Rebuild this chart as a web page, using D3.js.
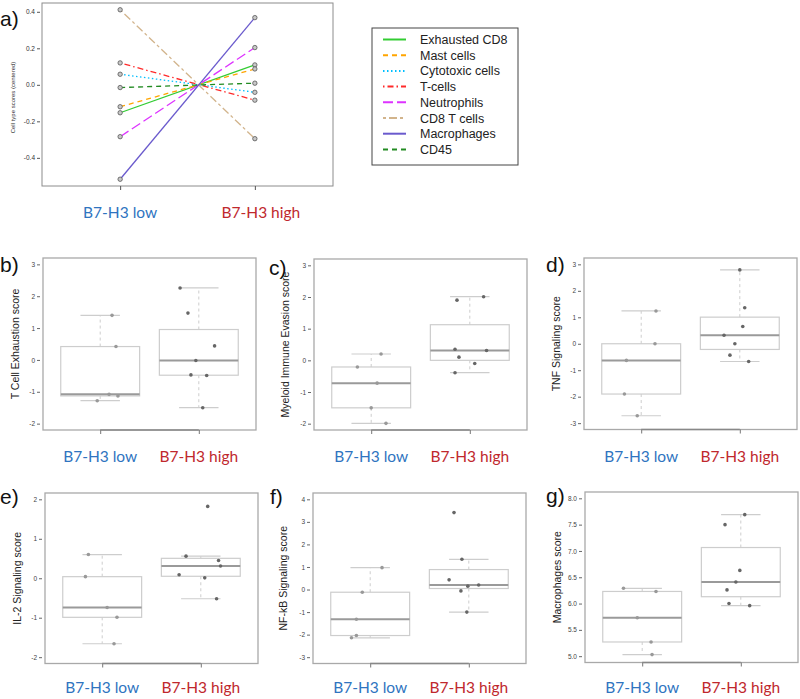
<!DOCTYPE html>
<html><head><meta charset="utf-8">
<script src="https://cdn.jsdelivr.net/npm/d3@7"></script>
<style>body{margin:0;background:#fff}svg{display:block}</style>
</head><body>
<svg id="chart" width="800" height="699"></svg>
<script>
// ---------------- DATA ----------------
const groups = ["B7-H3 low", "B7-H3 high"];

// panel a: centred cell type scores
const cellTypes = ["Exhausted CD8","Mast cells","Cytotoxic cells","T-cells","Neutrophils","CD8 T cells","Macrophages","CD45"];
const scoreLow  = [-0.153,-0.120, 0.058, 0.120,-0.284, 0.411,-0.517,-0.015];
const scoreHigh = [ 0.109, 0.087,-0.041,-0.084, 0.204,-0.295, 0.368, 0.009];
const scoreTicks = [-0.4,-0.2,0.0,0.2,0.4];

// panels b-g
const panelLetters = ["b)","c)","d)","e)","f)","g)"];
const panelTitles = ["T Cell Exhaustion score","Myeloid Immune Evasion score","TNF Signaling score",
                     "IL-2 Signaling score","NF-kB Signaling score","Macrophages score"];

const exhLow  = [1.40,0.42,-1.08,-1.13,-1.28];
const exhHigh = [2.26,1.47,0.44,-0.02,-0.47,-0.49,-1.50];
const myeLow  = [0.20,-0.21,-0.72,-1.50,-1.99];
const myeHigh = [2.01,1.90,0.35,0.31,0.10,-0.10,-0.39];
const tnfLow  = [1.24,0.00,-0.63,-1.90,-2.72];
const tnfHigh = [2.79,1.36,0.65,0.32,0.00,-0.43,-0.67];
const il2Low  = [0.60,0.04,-0.74,-0.99,-1.66];
const il2High = [1.82,0.56,0.45,0.31,0.09,0.01,-0.52];
const nfkLow  = [0.97,-0.12,-1.32,-2.04,-2.14];
const nfkHigh = [3.41,1.34,0.43,0.20,0.15,-0.06,-1.00];
const macLow  = [6.29,6.23,5.73,5.27,5.03];
const macHigh = [7.69,7.50,6.63,6.41,6.26,6.00,5.96];

// horizontal jitter of each sample (in group units)
const exhLowJit  = [0.12,0.16,0.09,0.18,-0.03];
const exhHighJit = [-0.19,-0.11,0.16,-0.03,-0.08,0.08,0.04];
const myeLowJit  = [0.10,-0.14,0.06,0.00,0.15];
const myeHighJit = [0.14,-0.13,-0.15,0.17,-0.11,0.05,-0.15];
const tnfLowJit  = [0.15,0.14,-0.15,-0.17,-0.04];
const tnfHighJit = [0.00,0.05,0.03,-0.16,-0.05,-0.10,0.09];
const il2LowJit  = [-0.14,-0.17,0.05,0.15,0.12];
const il2HighJit = [0.07,-0.15,0.18,0.20,-0.22,0.04,0.16];
const nfkLowJit  = [0.12,-0.08,-0.14,-0.14,-0.19];
const nfkHighJit = [-0.15,-0.07,-0.20,0.10,-0.01,-0.08,-0.02];
const macLowJit  = [-0.19,0.14,-0.05,0.09,0.10];
const macHighJit = [0.04,-0.16,-0.01,-0.05,-0.14,-0.12,0.09];

const exhTicks = [-2,-1,0,1,2,3];
const myeTicks = [-2,-1,0,1,2,3];
const tnfTicks = [-3,-2,-1,0,1,2,3];
const il2Ticks = [-2,-1,0,1,2];
const nfkTicks = [-3,-2,-1,0,1,2,3,4];
const macTicks = [5.0,5.5,6.0,6.5,7.0,7.5,8.0];

// ---------------- STYLE ----------------
const lineColors = ["#33cc33","#ffa500","#00bfff","#ff2a2a","#dd33ff","#d2b48c","#6a5acd","#228b22"];
const lineDash   = [null,"5,4","1.5,2.5","1.5,3,6,3","10,4","3,3,8,3",null,"5,4"];
const groupColors = ["#2f74c0","#c0282d"];

const svg = d3.select("#chart");
const FONT = "'Liberation Sans', Arial, sans-serif";
const LABFONT = "Lato, 'Open Sans', sans-serif";

// R-like padded limits
function pad(lim, f=0.04){ const r = lim[1]-lim[0]; return [lim[0]-r*f, lim[1]+r*f]; }

// ---------------- PANEL A ----------------
(function(){
  const L=42, R=333, T=3, B=186;
  const x = d3.scaleLinear().domain(pad([0.5,2.5])).range([L,R]);
  const y = d3.scaleLinear().domain(pad(d3.extent(scoreLow.concat(scoreHigh)))).range([B,T]);
  const g = svg.append("g");
  g.append("rect").attr("x",L).attr("y",T).attr("width",R-L).attr("height",B-T)
    .attr("fill","none").attr("stroke","#8c8c8c").attr("stroke-width",1);
  const ya = d3.axisLeft(y).tickValues(scoreTicks).tickFormat(d=>d.toFixed(1)).tickSize(3).tickPadding(2);
  const yg = g.append("g").attr("transform",`translate(${L-2},0)`).call(ya);
  yg.select(".domain").remove();
  yg.selectAll("line").attr("stroke","#555");
  yg.selectAll("text").attr("font-family",FONT).attr("font-size",6.5).attr("fill","#333");
  const xa = d3.axisBottom(x).tickValues([1,2]).tickFormat("").tickSize(4);
  const xg = g.append("g").attr("transform",`translate(0,${B})`).call(xa);
  xg.select(".domain").remove();
  xg.selectAll("line").attr("stroke","#555");
  g.append("text").attr("transform",`translate(15,${(T+B)/2+3}) rotate(-90)`).attr("text-anchor","middle")
    .attr("font-family",FONT).attr("font-size",6).attr("fill","#333").text("Cell type scores (centered)");
  cellTypes.forEach((c,i)=>{
    g.append("line").attr("x1",x(1)).attr("y1",y(scoreLow[i])).attr("x2",x(2)).attr("y2",y(scoreHigh[i]))
      .attr("stroke",lineColors[i]).attr("stroke-width",1.3).attr("stroke-dasharray",lineDash[i]);
  });
  cellTypes.forEach((c,i)=>{
    [[1,scoreLow[i]],[2,scoreHigh[i]]].forEach(p=>{
      g.append("circle").attr("cx",x(p[0])).attr("cy",y(p[1])).attr("r",2.2)
        .attr("fill","#c8c8c8").attr("stroke","#555").attr("stroke-width",0.8);
    });
  });
  groups.forEach((t,i)=>{
    g.append("text").attr("x",x(i+1)+(i?6:0)).attr("y",217.5).attr("text-anchor","middle")
      .attr("font-family",LABFONT).attr("font-size",15.5).attr("fill",groupColors[i]).text(t);
  });
  g.append("text").attr("x",0).attr("y",26).attr("font-family",FONT).attr("font-size",21).attr("fill","#111").text("a)");
  // legend
  const lx=372, ly=28, lw=146, lh=137, step=15.7;
  const lg = svg.append("g");
  lg.append("rect").attr("x",lx).attr("y",ly).attr("width",lw).attr("height",lh)
    .attr("fill","#fff").attr("stroke","#444").attr("stroke-width",1);
  cellTypes.forEach((c,i)=>{
    const yy = ly+11.5+i*step;
    lg.append("line").attr("x1",lx+11).attr("x2",lx+34).attr("y1",yy).attr("y2",yy)
      .attr("stroke",lineColors[i]).attr("stroke-width",2).attr("stroke-dasharray",lineDash[i]);
    lg.append("text").attr("x",lx+48).attr("y",yy+4.5).attr("font-family",FONT).attr("font-size",12.5)
      .attr("fill","#222").text(c);
  });
})();

// ---------------- PANELS B-G ----------------
function fivenum(arr){
  const x = arr.slice().sort((a,b)=>a-b), n=x.length;
  const n4 = Math.floor((n+3)/2)/2;
  const d = [1, n4, (n+1)/2, n+1-n4, n];
  return d.map(v => 0.5*(x[Math.floor(v)-1] + x[Math.ceil(v)-1]));
}
function boxStats(arr){
  const f = fivenum(arr), iqr = f[3]-f[1];
  const inside = arr.filter(v => v >= f[1]-1.5*iqr && v <= f[3]+1.5*iqr);
  return {lo:d3.min(inside), q1:f[1], med:f[2], q3:f[3], hi:d3.max(inside)};
}

const panelData = [
  {lo:exhLow, hi:exhHigh, jl:exhLowJit, jh:exhHighJit, ticks:exhTicks},
  {lo:myeLow, hi:myeHigh, jl:myeLowJit, jh:myeHighJit, ticks:myeTicks},
  {lo:tnfLow, hi:tnfHigh, jl:tnfLowJit, jh:tnfHighJit, ticks:tnfTicks},
  {lo:il2Low, hi:il2High, jl:il2LowJit, jh:il2HighJit, ticks:il2Ticks},
  {lo:nfkLow, hi:nfkHigh, jl:nfkLowJit, jh:nfkHighJit, ticks:nfkTicks},
  {lo:macLow, hi:macHigh, jl:macLowJit, jh:macHighJit, ticks:macTicks}
];
const layout = [
  {L:43, T:258, B:430, lx:0,   ly:272, tx:15},
  {L:314,T:259, B:430, lx:269, ly:275, tx:285},
  {L:584,T:258, B:429.5, lx:546, ly:272, tx:556},
  {L:45, T:493, B:663.5, lx:0,   ly:504, tx:17},
  {L:313,T:493, B:663.5, lx:270, ly:504, tx:283},
  {L:585,T:492, B:662.5, lx:546, ly:503, tx:557}
];
const PW = 213;

panelData.forEach((pd,k)=>{
  const lay = layout[k];
  const L=lay.L, R=L+PW, T=lay.T, B=lay.B;
  const g = svg.append("g");
  const x = d3.scaleLinear().domain(pad([0.5,2.5])).range([L,R]);
  const y = d3.scaleLinear().domain(pad(d3.extent(pd.ticks))).range([B,T]);
  const dec = pd.ticks.some(t=>!Number.isInteger(t));

  g.append("rect").attr("x",L).attr("y",T).attr("width",R-L).attr("height",B-T)
    .attr("fill","none").attr("stroke","#a9a9a9").attr("stroke-width",1.3);
  const ya = d3.axisLeft(y).tickValues(pd.ticks).tickFormat(d=>dec?d.toFixed(1):String(d)).tickSize(3).tickPadding(2);
  const yg = g.append("g").attr("transform",`translate(${L-3},0)`).call(ya);
  yg.select(".domain").remove();
  yg.selectAll("line").attr("stroke","#666");
  yg.selectAll("text").attr("font-family",FONT).attr("font-size",6.5).attr("fill","#444");
  const xa = d3.axisBottom(x).tickValues([1,2]).tickFormat("").tickSize(4);
  const xg = g.append("g").attr("transform",`translate(0,${B})`).call(xa);
  xg.select(".domain").remove();
  xg.selectAll("line").attr("stroke","#777");
  g.append("line").attr("x1",x(1)).attr("x2",x(2)).attr("y1",B).attr("y2",B).attr("stroke","#888").attr("stroke-width",1.6);

  g.append("text").attr("transform",`translate(${lay.tx},${(T+B)/2}) rotate(-90)`).attr("text-anchor","middle")
    .attr("dominant-baseline","central").attr("font-family",FONT).attr("font-size",10.5).attr("fill","#222").text(panelTitles[k]);
  g.append("text").attr("x",lay.lx).attr("y",lay.ly).attr("font-family",FONT).attr("font-size",21).attr("fill","#111").text(panelLetters[k]);

  [[pd.lo,pd.jl],[pd.hi,pd.jh]].forEach((s,gi)=>{
    const st = boxStats(s[0]);
    const c = gi+1, bw=0.4, cw=0.2;
    const bc = "#cdcdcd";
    g.append("line").attr("x1",x(c)).attr("x2",x(c)).attr("y1",y(st.q3)).attr("y2",y(st.hi))
      .attr("stroke",bc).attr("stroke-dasharray","3,3");
    g.append("line").attr("x1",x(c)).attr("x2",x(c)).attr("y1",y(st.q1)).attr("y2",y(st.lo))
      .attr("stroke",bc).attr("stroke-dasharray","3,3");
    [st.lo, st.hi].forEach(v=>g.append("line").attr("x1",x(c-cw)).attr("x2",x(c+cw)).attr("y1",y(v)).attr("y2",y(v))
      .attr("stroke",bc).attr("stroke-width",1.2));
    g.append("rect").attr("x",x(c-bw)).attr("y",y(st.q3)).attr("width",x(c+bw)-x(c-bw)).attr("height",y(st.q1)-y(st.q3))
      .attr("fill","none").attr("stroke",bc).attr("stroke-width",1.2);
    g.append("line").attr("x1",x(c-bw)).attr("x2",x(c+bw)).attr("y1",y(st.med)).attr("y2",y(st.med))
      .attr("stroke","#9a9a9a").attr("stroke-width",2);
    s[0].forEach((v,i)=>{
      g.append("circle").attr("cx",x(c+s[1][i])).attr("cy",y(v)).attr("r",1.8)
        .attr("fill",gi?"#666":"#999");
    });
  });
  const lblY = k<3 ? 462 : 693;
  groups.forEach((t,i)=>{
    g.append("text").attr("x",x(i+1)).attr("y",lblY).attr("text-anchor","middle")
      .attr("font-family",LABFONT).attr("font-size",15.5).attr("fill",groupColors[i]).text(t);
  });
});
</script>
</body></html>
